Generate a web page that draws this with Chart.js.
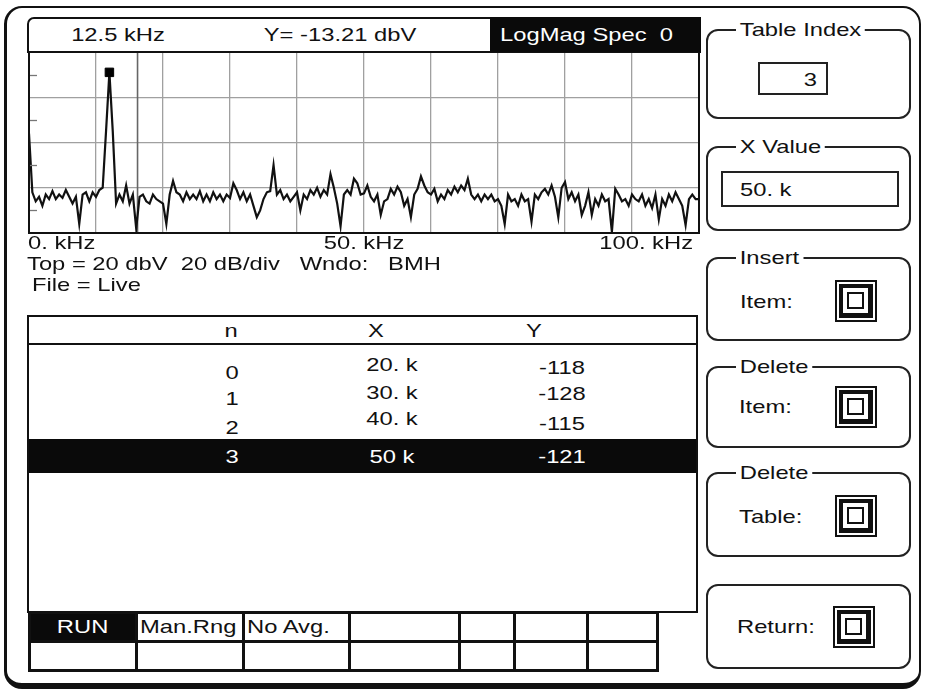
<!DOCTYPE html>
<html>
<head>
<meta charset="utf-8">
<script src="https://cdn.jsdelivr.net/npm/chart.js@4.4.0/dist/chart.umd.min.js"></script>
<style>
  body { margin:0; width:928px; height:692px; position:relative; background:#fff; overflow:hidden;
         font-family:'Liberation Sans', Arial, sans-serif; color:#111; }
  .abs { position:absolute; box-sizing:border-box; }
  .t { position:absolute; font-size:19px; line-height:1; white-space:pre; }
  .c { transform:translate(-50%,-50%) scaleX(1.25); }
  .l { transform-origin:0 50%; transform:translate(0,-50%) scaleX(1.25); }
  .r { transform-origin:100% 50%; transform:translate(-100%,-50%) scaleX(1.25); }
  .grp { position:absolute; box-sizing:border-box; border:2px solid #222; border-radius:12px; left:706px; width:205px; }
  .grp .lg { position:absolute; left:28px; top:-11px; background:#fff; padding:0 3px; font-size:19px; line-height:1;
             transform-origin:0 50%; transform:scaleX(1.25); }
  .icon { position:absolute; width:42px; height:42px; box-sizing:border-box; border:2px solid #111; padding:2px; }
  .icon .ring { width:100%; height:100%; box-sizing:border-box; border:4px solid #111; border-right-width:5px; border-bottom-width:5px; padding:4px; }
  .icon .core { width:100%; height:100%; box-sizing:border-box; border:2px solid #111; }
  table.btns { position:absolute; left:28px; top:611px; border-collapse:collapse; table-layout:fixed; }
  table.btns td { border:3px solid #111; padding:0 0 0 2px; font-size:19px; height:26px; white-space:nowrap; overflow:hidden; }
  table.btns td span { display:inline-block; transform-origin:0 50%; transform:scaleX(1.25); }
</style>
</head>
<body>

<!-- outer frame -->
<div class="abs" style="left:4px;top:6px;width:917px;height:683px;border:2px solid #111;border-left-width:3px;border-bottom-width:6px;border-radius:18px;"></div>

<!-- header bar -->
<div class="abs" style="left:27px;top:17px;width:674px;height:36px;border:2px solid #111;border-top-left-radius:7px;background:#fff;"></div>
<div class="abs" style="left:490px;top:17px;width:211px;height:36px;background:#0a0a0a;"></div>
<div class="t c" style="left:118px;top:34px;" id="hdrFreq"></div>
<div class="t c" style="left:340px;top:34px;" id="hdrY"></div>
<div class="t l" style="left:500px;top:34px;color:#fff;" id="hdrMode"></div>

<!-- spectrum plot -->
<div class="abs" style="left:27px;top:52px;width:674px;height:206px;">
  <canvas id="spec"></canvas>
</div>

<div class="t l" style="left:27px;top:263px;" id="infoLine"></div>
<div class="t l" style="left:32px;top:284px;" id="fileLine"></div>

<!-- data table -->
<div class="abs" style="left:27px;top:315px;width:671px;height:298px;border:2px solid #111;"></div>
<div class="abs" style="left:27px;top:343px;width:671px;height:2px;background:#111;"></div>
<div class="abs" style="left:29px;top:439px;width:667px;height:34px;background:#0a0a0a;"></div>
<div id="tableText"></div>

<!-- bottom soft keys -->
<table class="btns">
  <colgroup><col style="width:107px"><col style="width:107px"><col style="width:106px"><col style="width:110px"><col style="width:55px"><col style="width:73px"><col style="width:70px"></colgroup>
  <tr><td style="background:#0a0a0a;color:#fff;text-align:center;padding:0"><span style="transform-origin:50% 50%">RUN</span></td><td><span>Man.Rng</span></td><td><span>No Avg.</span></td><td></td><td></td><td></td><td></td></tr>
  <tr><td></td><td></td><td></td><td></td><td></td><td></td><td></td></tr>
</table>

<!-- right panel -->
<div class="grp" style="top:29px;height:90px;"><span class="lg">Table Index</span></div>
<div class="abs" style="left:758px;top:62px;width:70px;height:33px;border:2px solid #222;"></div>
<div class="t r" style="left:817px;top:79px;" id="idxVal"></div>

<div class="grp" style="top:146px;height:85px;"><span class="lg">X Value</span></div>
<div class="abs" style="left:721px;top:171px;width:178px;height:36px;border:2px solid #222;"></div>
<div class="t l" style="left:740px;top:189px;" id="xVal"></div>

<div class="grp" style="top:257px;height:84px;"><span class="lg">Insert</span></div>
<div class="t l" style="left:740px;top:301px;">Item:</div>
<div class="icon" style="left:835px;top:280px;"><div class="ring"><div class="core"></div></div></div>

<div class="grp" style="top:366px;height:82px;"><span class="lg">Delete</span></div>
<div class="t l" style="left:739px;top:406px;">Item:</div>
<div class="icon" style="left:835px;top:386px;"><div class="ring"><div class="core"></div></div></div>

<div class="grp" style="top:472px;height:85px;"><span class="lg">Delete</span></div>
<div class="t l" style="left:739px;top:516px;">Table:</div>
<div class="icon" style="left:835px;top:495px;"><div class="ring"><div class="core"></div></div></div>

<div class="grp" style="top:584px;height:85px;"></div>
<div class="t l" style="left:737px;top:626px;">Return:</div>
<div class="icon" style="left:833px;top:606px;"><div class="ring"><div class="core"></div></div></div>

<script>
// spectrum, 0..100 kHz in 0.5 kHz bins (dBV)
const freqStepKhz = 0.5;
const spectrumDb = [
  -16, -42, -46, -44, -48, -43, -45, -41.5, -45, -43,
  -44.5, -41, -44, -47, -44, -56, -43, -42, -46, -42,
  -44, -41, -40, -15, 11, -15, -47, -43, -46, -39,
  -47, -43, -58, -44, -43, -46, -47, -43, -45, -46,
  -47, -56, -43, -37, -42, -43, -46, -42, -45, -43,
  -45, -41.5, -46, -43, -46, -42, -45, -43, -46, -43,
  -44.5, -38, -41, -45, -42, -46, -43, -48, -53, -50,
  -45, -42, -41.5, -30, -43, -41, -45, -43, -46, -44,
  -42, -50, -43, -45, -41, -43, -40, -44, -41, -43,
  -34, -40, -47, -57, -43, -41, -43, -36, -38, -43,
  -42.5, -39, -44, -46, -43, -52, -46, -45, -40.5, -43,
  -39.5, -42, -48, -45, -53, -43, -40.5, -35, -39, -42,
  -43, -40.5, -46, -43, -45, -41, -43, -39.5, -42, -39,
  -41, -36, -43, -45, -43, -46, -43, -45, -43, -46,
  -45, -48, -56, -43, -46, -45, -48, -43, -46, -45,
  -55, -43, -45, -42, -40.5, -43, -39, -44, -53, -40,
  -37.5, -45, -42, -46, -43, -52, -48, -42, -52, -45,
  -48, -43, -46, -45, -59.5, -40.5, -43, -46, -45, -48,
  -43, -45, -46, -43, -48, -45, -49, -43, -54, -45,
  -48, -43, -46, -42, -45, -48, -56.5, -45, -43, -45,
  -45
];
const markerKhz = 12;
const markerDb = 11;
const cursorLineKhz = 16.2;
const yMinDb = -60;
const yMaxDb = 20;
const yStepDb = 20;
const minorTicksDb = [10, -10, -30, -50];
const xLabelKhz = [0, 50, 100];
const xLabelText = ["0. kHz", "50. kHz", "100. kHz"];

// readouts and table
const headerFreq = "12.5 kHz";
const headerY = "Y= -13.21 dbV";
const headerMode = "LogMag Spec  0";
const infoLine = "Top = 20 dbV  20 dB/div   Wndo:   BMH";
const fileLine = "File = Live";
const tableHead = ["n", "X", "Y"];
const tableN = ["0", "1", "2", "3"];
const tableX = ["20. k", "30. k", "40. k", "50 k"];
const tableY = ["-118", "-128", "-115", "-121"];
const selectedRow = 3;
const tableIndex = "3";
const xValue = "50. k";

document.getElementById("hdrFreq").textContent = headerFreq;
document.getElementById("hdrY").textContent = headerY;
document.getElementById("hdrMode").textContent = headerMode;
document.getElementById("infoLine").textContent = infoLine;
document.getElementById("fileLine").textContent = fileLine;
document.getElementById("idxVal").textContent = tableIndex;
document.getElementById("xVal").textContent = xValue;

// table text
const tt = document.getElementById("tableText");
function put(txt, x, y, color) {
  const d = document.createElement("div");
  d.className = "t c";
  d.style.left = x + "px";
  d.style.top = y + "px";
  if (color) d.style.color = color;
  d.textContent = txt;
  tt.appendChild(d);
}
put(tableHead[0], 231, 330);
put(tableHead[1], 376, 330);
put(tableHead[2], 534, 330);
const rowYn = [372, 398, 427, 456];
const rowYx = [364, 392, 418, 456];
const rowYy = [367, 393, 423, 456];
for (let i = 0; i < tableN.length; i++) {
  const col = i === selectedRow ? "#fff" : null;
  put(tableN[i], 232, rowYn[i], col);
  put(tableX[i], 392, rowYx[i], col);
  put(tableY[i], 562, rowYy[i], col);
}

// chart
const trace = spectrumDb.map((v, i) => ({ x: i * freqStepKhz, y: v }));

// box, left-edge minor ticks and the stretched kHz labels under the plot
const frameAndTicks = {
  id: "frameAndTicks",
  afterDraw(chart) {
    const ctx = chart.ctx;
    const a = chart.chartArea;
    const x = chart.scales.x;
    const y = chart.scales.y;
    ctx.save();
    ctx.strokeStyle = "#777";
    ctx.lineWidth = 1.3;
    minorTicksDb.forEach(v => {
      const py = Math.round(y.getPixelForValue(v)) + 0.5;
      ctx.beginPath();
      ctx.moveTo(a.left, py);
      ctx.lineTo(a.left + 8, py);
      ctx.stroke();
    });
    ctx.strokeStyle = "#111";
    ctx.lineWidth = 2;
    ctx.strokeRect(a.left, a.top, a.right - a.left, a.bottom - a.top);

    ctx.fillStyle = "#111";
    ctx.font = "19px 'Liberation Sans', Arial, sans-serif";
    ctx.textBaseline = "middle";
    const sx = 1.25;
    xLabelKhz.forEach((v, i) => {
      const px = x.getPixelForValue(v);
      const w = ctx.measureText(xLabelText[i]).width * sx;
      let left = px - w / 2;
      if (i === 0) left = px - 1;
      if (i === xLabelKhz.length - 1) left = px - w - 6;
      ctx.save();
      ctx.translate(left, a.bottom + 11);
      ctx.scale(sx, 1);
      ctx.fillText(xLabelText[i], 0, 0);
      ctx.restore();
    });
    ctx.restore();
  }
};

new Chart(document.getElementById("spec"), {
  type: "line",
  data: {
    datasets: [
      {
        data: [{ x: markerKhz, y: markerDb }],
        showLine: false,
        pointStyle: "rect",
        pointRadius: 6,
        backgroundColor: "#000",
        borderColor: "#000",
        order: 1
      },
      {
        data: trace,
        borderColor: "#111",
        borderWidth: 2.2,
        pointRadius: 0,
        tension: 0,
        order: 2
      },
      {
        data: [{ x: cursorLineKhz, y: yMinDb }, { x: cursorLineKhz, y: yMaxDb }],
        borderColor: "#666",
        borderWidth: 1.6,
        pointRadius: 0,
        order: 3
      }
    ]
  },
  options: {
    responsive: true,
    maintainAspectRatio: false,
    animation: false,
    layout: { autoPadding: false, padding: { left: 2, right: 2, top: 0, bottom: 25 } },
    plugins: { legend: { display: false }, tooltip: { enabled: false } },
    scales: {
      x: {
        type: "linear",
        min: 0,
        max: 100,
        border: { display: false },
        grid: { color: "#a0a0a0", lineWidth: 1.3, drawTicks: false },
        ticks: { stepSize: 10, display: false }
      },
      y: {
        min: yMinDb,
        max: yMaxDb,
        border: { display: false },
        grid: { color: "#a0a0a0", lineWidth: 1.3, drawTicks: false },
        ticks: { stepSize: yStepDb, display: false }
      }
    }
  },
  plugins: [frameAndTicks]
});
</script>
</body>
</html>
